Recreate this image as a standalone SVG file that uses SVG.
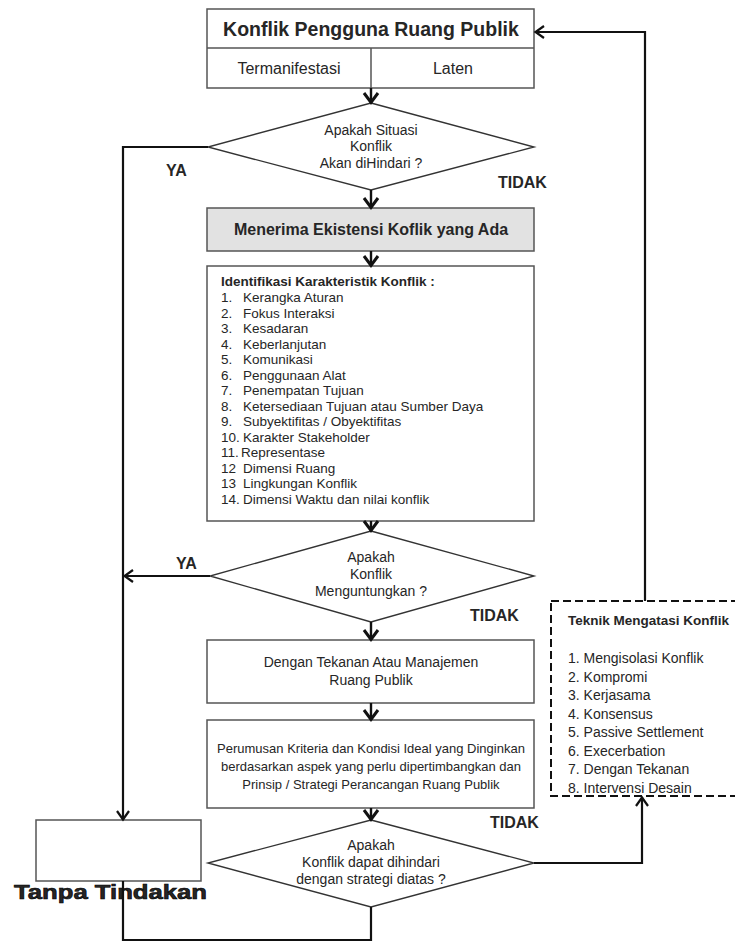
<svg xmlns="http://www.w3.org/2000/svg" width="735" height="944" viewBox="0 0 735 944">
<style>
.box{fill:#fff;stroke:#555;stroke-width:1.5}
.gray{fill:#e2e2e2;stroke:#555;stroke-width:1.5}
.dia{fill:#fff;stroke:#333;stroke-width:1.4}
.dash{fill:none;stroke:#111;stroke-width:2;stroke-dasharray:8 4}
.t{font-family:"Liberation Sans",Arial,sans-serif;fill:#262626}
.c{text-anchor:middle}
.b{font-weight:bold}
.s16{font-size:16px}
.s14{font-size:14px}
.s13{font-size:13px}
.s135{font-size:13.5px}
.conn{fill:none;stroke:#111;stroke-width:2.2}
.connb{fill:none;stroke:#111;stroke-width:2.4}
</style>
<defs>
<marker id="ahb" markerUnits="userSpaceOnUse" markerWidth="20" markerHeight="20" refX="0" refY="0" orient="auto" overflow="visible" viewBox="-12 -10 14 20">
<path d="M-10,-7 L-0.5,0 L-10,7" fill="none" stroke="#111" stroke-width="3"/>
</marker>
<marker id="aht" markerUnits="userSpaceOnUse" markerWidth="20" markerHeight="20" refX="0" refY="0" orient="auto" overflow="visible" viewBox="-12 -10 14 20">
<path d="M-9,-6 L-0.5,0 L-9,6" fill="none" stroke="#111" stroke-width="2.2"/>
</marker>
</defs>

<g id="konflik-pengguna">
<rect class="box" x="207" y="9" width="327" height="79"/>
<line x1="207" y1="48" x2="534" y2="48" stroke="#555" stroke-width="1.5"/>
<line x1="371" y1="48" x2="371" y2="88" stroke="#555" stroke-width="1.5"/>
<text class="t c b" x="371" y="36" font-size="19.5">Konflik Pengguna Ruang Publik</text>
<text class="t c s16" x="289" y="74">Termanifestasi</text>
<text class="t c s16" x="453" y="74">Laten</text>
</g>

<g id="diamond-situasi">
<polygon class="dia" points="371,103 534,147 371,190 208,147"/>
<text class="t c s14" x="371" y="135">Apakah Situasi</text>
<text class="t c s14" x="371" y="151">Konflik</text>
<text class="t c s14" x="371" y="168">Akan diHindari ?</text>
</g>

<g id="menerima">
<rect class="gray" x="207" y="208" width="327" height="43"/>
<text class="t c b s16" x="371" y="235">Menerima Ekistensi Koflik yang Ada</text>
</g>

<g id="identifikasi">
<rect class="box" x="207" y="266" width="327" height="255"/>
<text class="t b s135" x="221" y="286">Identifikasi Karakteristik Konflik :</text>
<g class="t s135">
<text x="221" y="302">1.</text><text x="243" y="302">Kerangka Aturan</text>
<text x="221" y="317.5">2.</text><text x="243" y="317.5">Fokus Interaksi</text>
<text x="221" y="333">3.</text><text x="243" y="333">Kesadaran</text>
<text x="221" y="348.5">4.</text><text x="243" y="348.5">Keberlanjutan</text>
<text x="221" y="364">5.</text><text x="243" y="364">Komunikasi</text>
<text x="221" y="379.5">6.</text><text x="243" y="379.5">Penggunaan Alat</text>
<text x="221" y="395">7.</text><text x="243" y="395">Penempatan Tujuan</text>
<text x="221" y="410.5">8.</text><text x="243" y="410.5">Ketersediaan Tujuan atau Sumber Daya</text>
<text x="221" y="426">9.</text><text x="243" y="426">Subyektifitas / Obyektifitas</text>
<text x="221" y="441.5">10.</text><text x="243" y="441.5">Karakter Stakeholder</text>
<text x="221" y="457">11.</text><text x="241" y="457">Representase</text>
<text x="221" y="472.5">12</text><text x="243" y="472.5">Dimensi Ruang</text>
<text x="221" y="488">13</text><text x="243" y="488">Lingkungan Konflik</text>
<text x="221" y="503.5">14.</text><text x="243" y="503.5">Dimensi Waktu dan nilai konflik</text>
</g>
</g>

<g id="diamond-menguntungkan">
<polygon class="dia" points="371,531 534,576 371,622 210,576"/>
<text class="t c s14" x="371" y="562">Apakah</text>
<text class="t c s14" x="371" y="579">Konflik</text>
<text class="t c s14" x="371" y="596">Menguntungkan ?</text>
</g>

<g id="dengan-tekanan">
<rect class="box" x="207" y="640" width="327" height="63"/>
<text class="t c s14" x="371" y="667">Dengan Tekanan Atau Manajemen</text>
<text class="t c s14" x="371" y="685">Ruang Publik</text>
</g>

<g id="perumusan">
<rect class="box" x="207" y="720" width="327" height="88"/>
<text class="t c s13" x="371" y="753">Perumusan Kriteria dan Kondisi Ideal yang Dinginkan</text>
<text class="t c s13" x="371" y="771">berdasarkan aspek yang perlu dipertimbangkan dan</text>
<text class="t c s13" x="371" y="789">Prinsip / Strategi Perancangan Ruang Publik</text>
</g>

<g id="diamond-dihindari">
<polygon class="dia" points="371,820 534,863 371,907 208,863"/>
<text class="t c s14" x="371" y="850">Apakah</text>
<text class="t c s14" x="371" y="867">Konflik dapat dihindari</text>
<text class="t c s14" x="371" y="884">dengan strategi diatas ?</text>
</g>

<g id="tanpa-tindakan">
<rect class="box" x="36" y="820" width="165" height="61"/>
<text class="t b" x="14" y="899" font-size="20" fill="#000" stroke="#000" stroke-width="0.6" textLength="193" lengthAdjust="spacingAndGlyphs">Tanpa Tindakan</text>
</g>

<g id="teknik">
<rect class="dash" x="551" y="601" width="200" height="195"/>
<text class="t b s135" x="568" y="625">Teknik Mengatasi Konflik</text>
<g class="t s14">
<text x="568" y="663">1. Mengisolasi Konflik</text>
<text x="568" y="681.5">2. Kompromi</text>
<text x="568" y="700">3. Kerjasama</text>
<text x="568" y="718.5">4. Konsensus</text>
<text x="568" y="737">5. Passive Settlement</text>
<text x="568" y="755.5">6. Execerbation</text>
<text x="568" y="774">7. Dengan Tekanan</text>
<text x="568" y="792.5">8. Intervensi Desain</text>
</g>
</g>

<g id="connectors">
<line class="connb" x1="371" y1="88" x2="371" y2="103" marker-end="url(#ahb)"/>
<line class="connb" x1="371" y1="190" x2="371" y2="208" marker-end="url(#ahb)"/>
<line class="connb" x1="371" y1="251" x2="371" y2="266" marker-end="url(#ahb)"/>
<line class="connb" x1="371" y1="521" x2="371" y2="531" marker-end="url(#ahb)"/>
<line class="connb" x1="371" y1="622" x2="371" y2="640" marker-end="url(#ahb)"/>
<line class="connb" x1="371" y1="703" x2="371" y2="720" marker-end="url(#ahb)"/>
<line class="connb" x1="371" y1="808" x2="371" y2="820" marker-end="url(#ahb)"/>
<polyline class="conn" points="208,147 123,147 123,820" marker-end="url(#aht)"/>
<line class="conn" x1="210" y1="576" x2="124" y2="576" marker-end="url(#aht)"/>
<polyline class="conn" points="371,907 371,940 123,940 123,881"/>
<polyline class="conn" points="534,863 642,863 642,797" marker-end="url(#aht)"/>
<polyline class="conn" points="645,601 645,32 535,32" marker-end="url(#aht)"/>
<text class="t b s16" x="166" y="176">YA</text>
<text class="t b s16" x="498" y="188">TIDAK</text>
<text class="t b s16" x="176" y="569">YA</text>
<text class="t b s16" x="470" y="621">TIDAK</text>
<text class="t b s16" x="490" y="828">TIDAK</text>
</g>
</svg>
